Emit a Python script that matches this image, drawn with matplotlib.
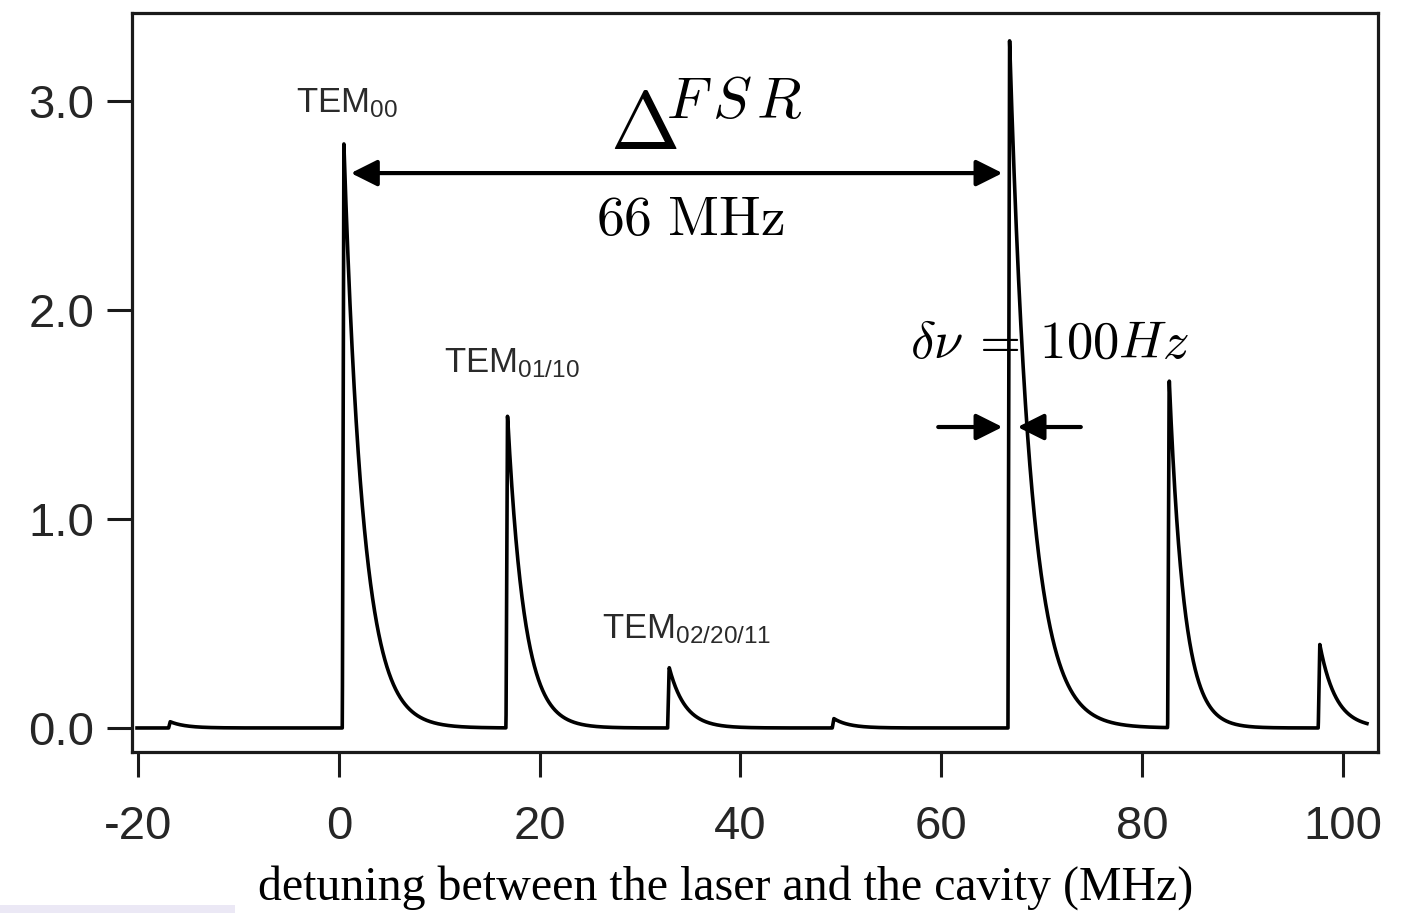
import numpy as np
import matplotlib.pyplot as plt
from matplotlib.patches import Rectangle

plt.rcParams['font.family'] = ['Liberation Sans', 'DejaVu Sans']
plt.rcParams['mathtext.fontset'] = 'custom'
plt.rcParams['mathtext.rm'] = 'Liberation Sans'
plt.rcParams['mathtext.it'] = 'Liberation Sans:italic'

# Cavity transmission peaks: detuning (MHz), height (a.u.), ring-down width (MHz)
peak_pos = [-16.8, 0.5, 16.8, 32.9, 49.3, 66.8, 82.7, 97.7]
peak_height = [0.03, 2.80, 1.50, 0.29, 0.045, 3.30, 1.675, 0.40]
peak_decay = [1.5, 1.9, 1.65, 1.6, 1.5, 2.1, 1.45, 1.6]
peak_rise = 0.15
scan_start, scan_stop = -20.1, 102.4

x_ticks = [-20, 0, 20, 40, 60, 80, 100]
x_ticklabels = ['-20', '0', '20', '40', '60', '80', '100']
y_ticks = [0.0, 1.0, 2.0, 3.0]
y_ticklabels = ['0.0', '1.0', '2.0', '3.0']

mode_labels = [r'$\mathregular{TEM_{00}}$',
               r'$\mathregular{TEM_{01/10}}$',
               r'$\mathregular{TEM_{02/20/11}}$']
mode_label_xy = [(-4.3, 2.947), (10.46, 1.70), (26.2, 0.43)]

fsr_ends = (1.2, 66.1)
fsr_y = 2.655
linewidth_arrows = [(59.7, 66.1), (73.9, 67.6)]
linewidth_y = 1.44

# Build the scanned transmission trace
x = np.linspace(scan_start, scan_stop, 6000)
y = np.zeros_like(x)
for p, h, tau in zip(peak_pos, peak_height, peak_decay):
    d = x - p
    ramp = np.clip((d + peak_rise) / peak_rise, 0, 1)
    tail = np.where(d >= 0, np.exp(-np.clip(d, 0, None) / tau), 1.0)
    y += h * ramp * tail

W, H = 1408, 913
fig = plt.figure(figsize=(W / 100, H / 100), dpi=100)
ax = fig.add_axes([132 / W, 1 - 752 / H, (1378 - 132) / W, (752 - 13) / H])

ax.plot(x, y, color='black', lw=2.6, solid_joinstyle='round')

ax.set_xlim(-20.6, 103.5)
ax.set_ylim(-0.115, 3.421)
ax.set_xticks(x_ticks)
ax.set_xticklabels(x_ticklabels)
ax.set_yticks(y_ticks)
ax.set_yticklabels(y_ticklabels)

for s in ax.spines.values():
    s.set_linewidth(2.3)
    s.set_color('#1a1a1a')
ax.tick_params(axis='both', direction='out', length=18, width=2.2,
               color='#1a1a1a', labelsize=34, labelcolor='#262626')
ax.tick_params(axis='x', pad=20)
ax.tick_params(axis='y', pad=9)

# Mode labels
for lab, (lx, ly) in zip(mode_labels, mode_label_xy):
    ax.text(lx, ly, lab, fontsize=25, color='#2a2a2a', ha='left', va='baseline')

# Free spectral range arrow
arrow_style = 'head_length=0.8,head_width=0.4'
ax.annotate('', xy=(fsr_ends[0], fsr_y), xytext=(fsr_ends[1], fsr_y),
            arrowprops=dict(arrowstyle='<|-|>,' + arrow_style, lw=3.0,
                            color='black', shrinkA=0, shrinkB=0,
                            mutation_scale=20))
ax.text(27.0, 2.77, r'$\Delta$', fontsize=60, math_fontfamily='cm',
        ha='left', va='baseline')
ax.text(32.6, 2.919, r'$F\,S\,R$', fontsize=42, math_fontfamily='cm',
        ha='left', va='baseline')
ax.text(35.0, 2.36, r'$66\ \mathrm{MHz}$', fontsize=40, math_fontfamily='cm',
        ha='center', va='baseline')

# Linewidth arrows
for x0, x1 in linewidth_arrows:
    ax.annotate('', xy=(x1, linewidth_y), xytext=(x0, linewidth_y),
                arrowprops=dict(arrowstyle='-|>,' + arrow_style, lw=3.0,
                                color='black', shrinkA=0, shrinkB=0,
                                mutation_scale=20))
ax.text(56.9, 1.77, r'$\delta\nu\:=\:100Hz$', fontsize=38, math_fontfamily='cm',
        ha='left', va='baseline')

fig.text(726 / W, 1 - 900 / H,
         'detuning between the laser and the cavity (MHz)',
         family='Liberation Serif', fontsize=34.5, ha='center', va='baseline')

# faint tint along the lower left edge
fig.patches.append(Rectangle((0, 0), 235 / W, 8 / H, transform=fig.transFigure,
                             facecolor='#ebe8f5', edgecolor='none', zorder=-1))

fig.savefig('out.png', dpi=100)
